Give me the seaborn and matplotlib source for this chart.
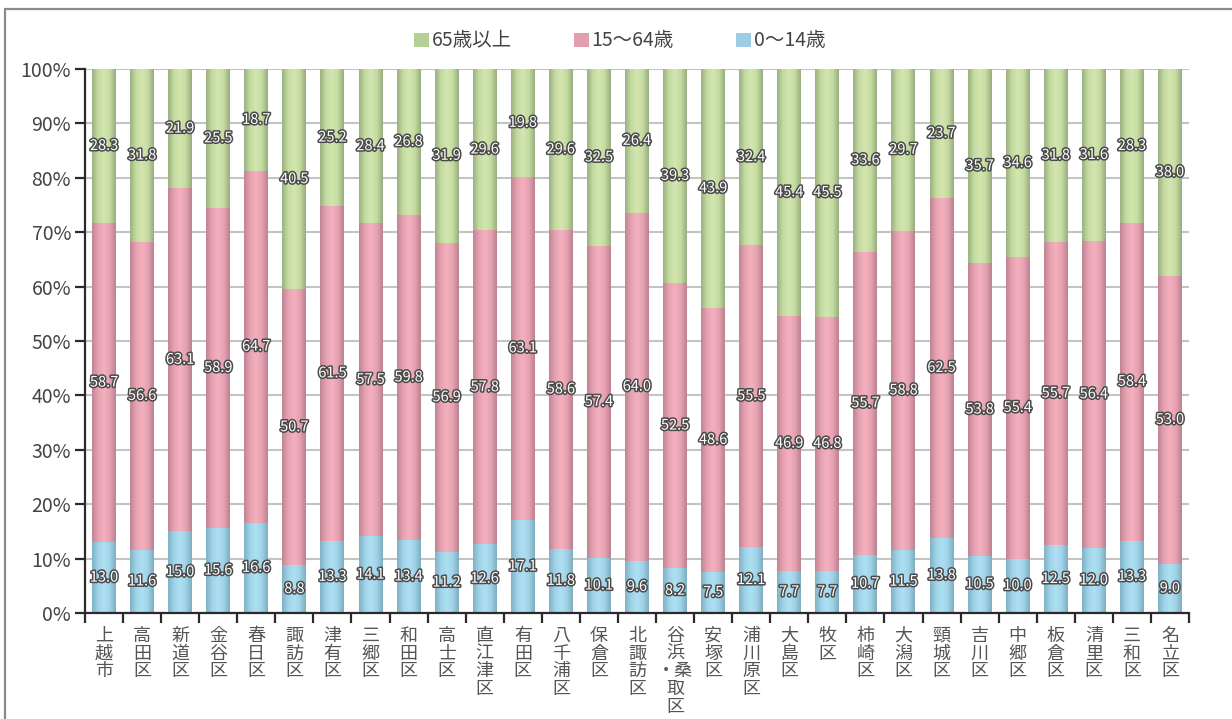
import numpy as np
import pandas as pd
import matplotlib
matplotlib.use("Agg")
import matplotlib.pyplot as plt
import matplotlib.patheffects as pe
from matplotlib.colors import LinearSegmentedColormap
from matplotlib.patches import Patch
from matplotlib.ticker import FixedLocator, PercentFormatter
import seaborn as sns

# Age composition by district (percent)
districts = ["上越市", "高田区", "新道区", "金谷区", "春日区", "諏訪区", "津有区", "三郷区",
             "和田区", "高士区", "直江津区", "有田区", "八千浦区", "保倉区", "北諏訪区",
             "谷浜・桑取区", "安塚区", "浦川原区", "大島区", "牧区", "柿崎区", "大潟区",
             "頸城区", "吉川区", "中郷区", "板倉区", "清里区", "三和区", "名立区"]
age_0_14 = [13.0, 11.6, 15.0, 15.6, 16.6, 8.8, 13.3, 14.1, 13.4, 11.2, 12.6, 17.1, 11.8, 10.1,
            9.6, 8.2, 7.5, 12.1, 7.7, 7.7, 10.7, 11.5, 13.8, 10.5, 10.0, 12.5, 12.0, 13.3, 9.0]
age_15_64 = [58.7, 56.6, 63.1, 58.9, 64.7, 50.7, 61.5, 57.5, 59.8, 56.9, 57.8, 63.1, 58.6, 57.4,
             64.0, 52.5, 48.6, 55.5, 46.9, 46.8, 55.7, 58.8, 62.5, 53.8, 55.4, 55.7, 56.4, 58.4, 53.0]
age_65_over = [28.3, 31.8, 21.9, 25.5, 18.7, 40.5, 25.2, 28.4, 26.8, 31.9, 29.6, 19.8, 29.6, 32.5,
               26.4, 39.3, 43.9, 32.4, 45.4, 45.5, 33.6, 29.7, 23.7, 35.7, 34.6, 31.8, 31.6, 28.3, 38.0]
legend_labels = ["65歳以上", "15〜64歳", "0〜14歳"]

JP = ["Noto Sans CJK JP", "DejaVu Sans"]
sns.set_theme(style="white")
plt.rcParams["font.family"] = JP

df = pd.DataFrame({"district": districts, "young": age_0_14,
                   "working": age_15_64, "old": age_65_over})
df["top_working"] = df["young"] + df["working"]
df["top_old"] = df["top_working"] + df["old"]

fig = plt.figure(figsize=(12.32, 7.19), dpi=100)
ax = fig.add_axes([85 / 1232, 106 / 719, 1104 / 1232, 544 / 719])

# outer frame (top and left edges)
fig.add_artist(plt.Line2D([5 / 1232, 5 / 1232], [0, 1 - 9 / 719], transform=fig.transFigure,
                          color="#8a8a8a", lw=1.6))
fig.add_artist(plt.Line2D([5 / 1232, 1], [1 - 9 / 719, 1 - 9 / 719], transform=fig.transFigure,
                          color="#8a8a8a", lw=1.6))

layers = [
    ("top_old", "#b5cf94", ["#9cb182", "#c4dba0", "#d3e6b0", "#c4dba0", "#98ad80"]),
    ("top_working", "#e29fae", ["#bf8592", "#e7a2b2", "#f5b0c0", "#e7a2b2", "#bb828f"]),
    ("young", "#9ccde3", ["#80b1c4", "#a0d3e8", "#aee0f4", "#a0d3e8", "#7dadc0"]),
]
width = 0.63
for i, (col, base, grad) in enumerate(layers):
    n_before = len(ax.patches)
    sns.barplot(data=df, x="district", y=col, order=districts, color=base,
                width=width, saturation=1, ax=ax, zorder=2 + i, edgecolor="none")
    cmap = LinearSegmentedColormap.from_list(f"g{i}", grad)
    grad_img = np.linspace(0, 1, 64).reshape(1, -1)
    for p in ax.patches[n_before:]:
        x0, y0 = p.get_x(), p.get_y()
        w, h = p.get_width(), p.get_height()
        im = ax.imshow(grad_img, cmap=cmap, aspect="auto", extent=(x0, x0 + w, y0, y0 + h),
                       zorder=2 + i + 0.5, interpolation="bilinear")
        im.set_clip_path(p)

ax.set_xlim(-0.5, len(districts) - 0.5)
ax.set_ylim(0, 100)

# value labels centred in each segment
stroke = [pe.withStroke(linewidth=2.2, foreground="#4a4a4a")]
segments = [(df["young"], np.zeros(len(df))),
            (df["working"], df["young"]),
            (df["old"], df["top_working"])]
for vals, bottoms in segments:
    for k, (v, b) in enumerate(zip(vals, bottoms)):
        ax.text(k, b + v / 2, f"{v:.1f}", ha="center", va="center", color="white",
                fontsize=10.5, family=JP, zorder=10, path_effects=stroke)

# axes styling
ax.yaxis.set_major_locator(FixedLocator(np.arange(0, 101, 10)))
ax.yaxis.set_major_formatter(PercentFormatter(decimals=0))
ax.grid(axis="y", color="#c4c4c4", lw=1.5, zorder=0)
ax.grid(axis="x", visible=False)
ax.set_axisbelow(True)
for s in ["top", "right"]:
    ax.spines[s].set_visible(False)
for s in ["left", "bottom"]:
    ax.spines[s].set_color("#2a2a2a")
    ax.spines[s].set_linewidth(1.6)
    ax.spines[s].set_zorder(11)
ax.set_xlabel("")
ax.set_ylabel("")

ax.tick_params(axis="y", which="major", left=True, length=7, width=1.6, color="#2a2a2a",
               labelsize=14, labelcolor="#444444", pad=3)
ax.set_xticks(range(len(districts)))
ax.set_xticklabels(["谷\n浜\n・桑\n取\n区" if "・" in d else "\n".join(d) for d in districts],
                   fontsize=13, color="#555555", linespacing=0.98, va="top")
ax.tick_params(axis="x", which="major", length=0, pad=10)
ax.set_xticks(np.arange(-0.5, len(districts) + 0.5, 1), minor=True)
ax.tick_params(axis="x", which="minor", bottom=True, length=7, width=1.6, color="#2a2a2a")

handles = [Patch(facecolor=c, edgecolor="none") for c in ["#b5cf94", "#e29fae", "#9ccde3"]]
fig.legend(handles, legend_labels, loc="center", bbox_to_anchor=(0.503, 1 - 41 / 719),
           ncol=3, frameon=False, fontsize=14, handlelength=0.75, handleheight=0.75,
           handletextpad=0.15, columnspacing=3.2, labelcolor="#444444")

fig.savefig("out.png", dpi=100, facecolor="white")
